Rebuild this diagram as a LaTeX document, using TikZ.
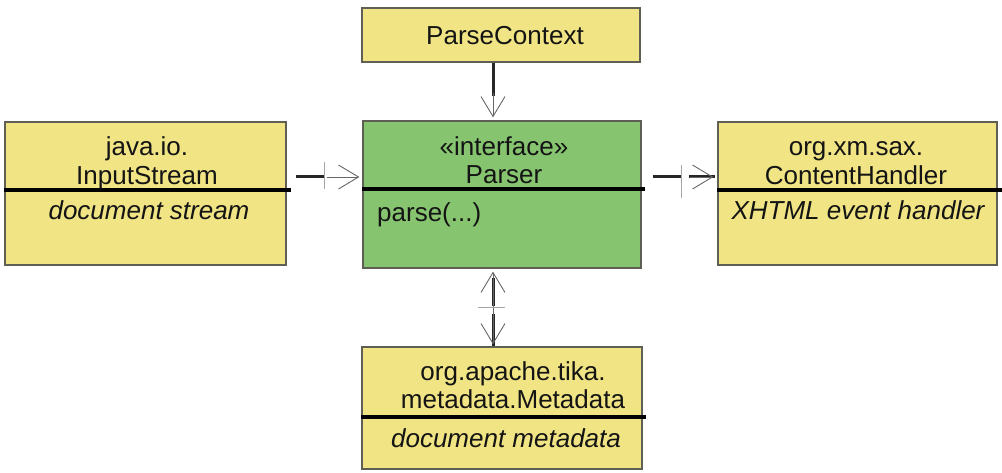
\documentclass[tikz,border=0pt]{standalone}
\usepackage{fontspec}
\setmainfont{Liberation Sans}
\usetikzlibrary{arrows.meta,calc}
\definecolor{clsyellow}{RGB}{240,228,132}
\definecolor{clsgreen}{RGB}{134,196,112}
\definecolor{edgegray}{RGB}{95,95,85}
\begin{document}
\begin{tikzpicture}[x=1pt,y=1pt,
  cls/.style={draw=edgegray, line width=1.2pt, fill=clsyellow, inner sep=0pt},
  txt/.style={anchor=base, inner sep=0pt, text=black!92, font=\fontsize{26}{28}\selectfont},
  itx/.style={txt, font=\fontsize{26}{28}\selectfont\itshape},
  divider/.style={line width=3.2pt, black},
  dep/.style={line width=3pt, black!85},
  headline/.style={line width=0.9pt, black!60},
  barb/.style={-{Straight Barb[length=20pt,width=24pt]}},
  tickmark/.style={line width=0.8pt, black!35}]

\useasboundingbox (0,0) rectangle (1002,472);

% class boxes
\node[cls, minimum width=281pt, minimum height=143pt] (is) at (145.5,278.5) {};
\node[cls, fill=clsgreen, minimum width=278pt, minimum height=147pt] (parser) at (502,277.5) {};
\node[cls, minimum width=279pt, minimum height=143pt] (ch) at (857.5,278.5) {};
\node[cls, minimum width=278pt, minimum height=54pt] (pc) at (501,437) {};
\node[cls, minimum width=280pt, minimum height=122pt] (md) at (502,64) {};

% dividers
\draw[divider] (is.west |- 0,282) -- ([xshift=4pt]is.east |- 0,282);
\draw[divider] (parser.west |- 0,283) -- ([xshift=3pt]parser.east |- 0,283);
\draw[divider] (ch.west |- 0,282) -- ([xshift=5pt]ch.east |- 0,282);
\draw[divider] (md.west |- 0,55) -- ([xshift=3pt]md.east |- 0,55);

% texts
\node[txt] (is1) at (147,316) {java.io.};
\node[txt] (is2) at (147,287) {InputStream};
\node[itx] (is3) at (149,252) {document stream};

\node[txt] (p1) at (504,316) {«interface»};
\node[txt] (p2) at (504,288) {Parser};
\node[txt, anchor=base west] (p3) at (377,250) {parse(...)};

\node[txt] (ch1) at (856,316) {org.xm.sax.};
\node[txt] (ch2) at (856,287) {ContentHandler};
\node[itx] (ch3) at (858,252) {XHTML event handler};

\node[txt] (pc1) at (505,427) {ParseContext};

\node[txt] (md1) at (513,92) {org.apache.tika.};
\node[txt] (md2) at (513,64) {metadata.Metadata};
\node[itx] (md3) at (506,25) {document metadata};

% connector end points
\coordinate (a1) at (is.east |- 0,295);
\coordinate (a2) at (parser.west |- 0,295);
\coordinate (b1) at (parser.east |- 0,295);
\coordinate (b2) at (ch.west |- 0,295);
\coordinate (c1) at (pc.south -| 493,0);
\coordinate (c2) at (parser.north -| 493,0);
\coordinate (d1) at (parser.south -| 493,0);
\coordinate (d2) at (md.north -| 493,0);

% InputStream -> Parser
\draw[dep, shorten <=9pt, dash pattern=on 28pt off 300pt] (a1) -- (a2);
\draw[headline, barb, shorten <=40pt, shorten >=3pt] (a1) -- (a2);
\draw[tickmark] ($(a1)!38pt!(a2)$) ++(0,15) -- ++(0,-27);

% Parser -> ContentHandler
\draw[dep, shorten <=11pt, dash pattern=on 28pt off 8pt on 26pt off 300pt] (b1) -- (b2);
\draw[headline, barb, shorten <=48pt, shorten >=4pt] (b1) -- (b2);
\draw[tickmark] ($(b1)!40pt!(b2)$) ++(0,12) -- ++(0,-33);

% ParseContext -> Parser
\draw[dep, dash pattern=on 33pt off 300pt] (c1) -- (c2);
\draw[headline, barb, shorten <=30pt, shorten >=3pt] (c1) -- (c2);

% Parser <-> Metadata
\draw[dep, shorten <=9pt, dash pattern=on 28pt off 8pt on 32pt off 300pt] (d1) -- (d2);
\draw[headline, {Straight Barb[length=20pt,width=24pt]}-{Straight Barb[length=20pt,width=24pt]}, shorten <=3pt, shorten >=2pt] (d1) -- (d2);
\draw[tickmark] ($(d1)!39pt!(d2)$) ++(-15,0) -- ++(27,0);
\end{tikzpicture}
\end{document}
